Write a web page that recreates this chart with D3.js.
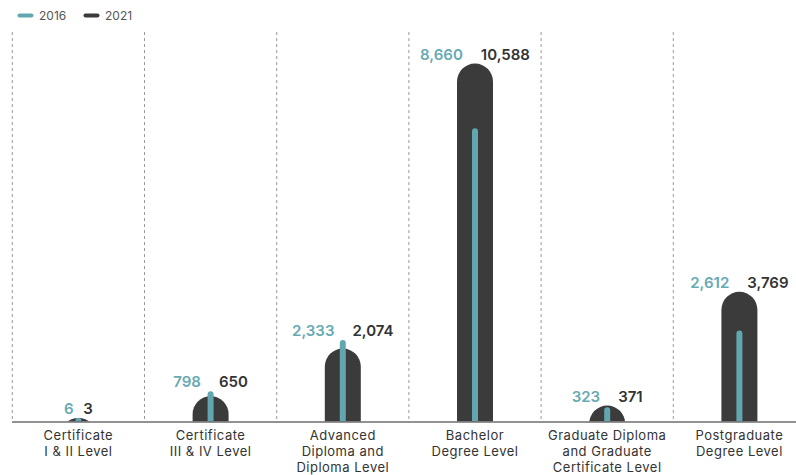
<!DOCTYPE html>
<html>
<head>
<meta charset="utf-8">
<script src="https://cdn.jsdelivr.net/npm/d3@7"></script>
<style>
  html, body { margin: 0; padding: 0; background: #fff; }
  svg { display: block; }
  text { font-family: Inter, "Open Sans", sans-serif; }
</style>
</head>
<body>
<svg id="chart" width="796" height="475"></svg>
<script>
// ---- data ----
const categories = [
  "Certificate\nI & II Level",
  "Certificate\nIII & IV Level",
  "Advanced\nDiploma and\nDiploma Level",
  "Bachelor\nDegree Level",
  "Graduate Diploma\nand Graduate\nCertificate Level",
  "Postgraduate\nDegree Level"
];
const values2016 = [6, 798, 2333, 8660, 323, 2612];
const values2021 = [3, 650, 2074, 10588, 371, 3769];
const seriesNames = ["2016", "2021"];

// ---- style ----
const teal = "#62a7af";
const tealText = "#66aab3";
const dark = "#3b3b3b";
const W = 796, H = 475;
const baseY = 422;

const svg = d3.select("#chart");

const x = d3.scaleBand().domain(categories).range([12.3, 805.5]).padding(0);
const y = d3.scaleLinear().domain([0, d3.max(values2021.concat(values2016))]).range([418, 63.6]);

svg.append("defs").append("clipPath").attr("id", "clipTop")
  .append("rect").attr("x", 0).attr("y", 0).attr("width", W).attr("height", baseY - 0.5);

// separators
const seps = categories.map(c => x(c));
svg.append("g").selectAll("line").data(seps).join("line")
  .attr("x1", d => d).attr("x2", d => d)
  .attr("y1", 32).attr("y2", baseY)
  .attr("stroke", "#9a9a9a").attr("stroke-width", 1)
  .attr("stroke-dasharray", "3,3");

const data = categories.map((c, i) => ({ c, a: values2016[i], b: values2021[i] }));
const r = 18;
const g = svg.append("g").attr("clip-path", "url(#clipTop)");

// 2021 bars (rounded top)
g.selectAll("path.bar").data(data).join("path").attr("class", "bar")
  .attr("fill", dark)
  .attr("d", d => {
    const cx = x(d.c) + x.bandwidth() / 2;
    const t = y(d.b);
    const bottom = 450;
    return `M${cx - r},${bottom} V${t + r} A${r},${r} 0 0 1 ${cx + r},${t + r} V${bottom} Z`;
  });

// 2016 lines
g.selectAll("line.l16").data(data).join("line").attr("class", "l16")
  .attr("x1", d => x(d.c) + x.bandwidth() / 2)
  .attr("x2", d => x(d.c) + x.bandwidth() / 2)
  .attr("y1", 440)
  .attr("y2", d => y(d.a) + 3)
  .attr("stroke", teal).attr("stroke-width", 6).attr("stroke-linecap", "round");

// baseline
svg.append("line").attr("x1", 12).attr("x2", W).attr("y1", baseY).attr("y2", baseY)
  .attr("stroke", "#6e6e6e").attr("stroke-width", 1.6);

// value labels
const fmt = d3.format(",");
const lab = svg.append("g");
data.forEach(d => {
  const cx = x(d.c) + x.bandwidth() / 2;
  const ly = y(Math.max(d.a, d.b)) - 4;
  const t1 = lab.append("text").attr("y", ly).attr("fill", tealText)
    .attr("font-size", 15).attr("font-weight", 600).text(fmt(d.a));
  const t2 = lab.append("text").attr("y", ly).attr("fill", "#333")
    .attr("font-size", 15).attr("font-weight", 600).text(fmt(d.b));
  const w1 = t1.node().getComputedTextLength();
  const w2 = t2.node().getComputedTextLength();
  const gap = Math.min(18, (w1 + w2) / 2);
  const start = cx - (w1 + gap + w2) / 2;
  t1.attr("x", start);
  t2.attr("x", start + w1 + gap);
});

// category labels
const cl = svg.append("g");
categories.forEach(c => {
  const cx = x(c) + x.bandwidth() / 2;
  c.split("\n").forEach((line, j) => {
    cl.append("text").attr("text-anchor", "middle").attr("fill", "#333")
      .attr("font-size", 13).attr("letter-spacing", 0.5)
      .attr("x", cx).attr("y", 440 + j * 16).text(line);
  });
});

// legend
const legColors = [teal, dark];
const legX = [18, 84];
seriesNames.forEach((s, i) => {
  svg.append("line").attr("x1", legX[i] + 1.5).attr("x2", legX[i] + 13.5)
    .attr("y1", 15.5).attr("y2", 15.5)
    .attr("stroke", legColors[i]).attr("stroke-width", 4).attr("stroke-linecap", "round");
  svg.append("text").attr("x", legX[i] + 21).attr("y", 20).attr("fill", "#555")
    .attr("font-size", 12).text(s);
});
</script>
</body>
</html>
